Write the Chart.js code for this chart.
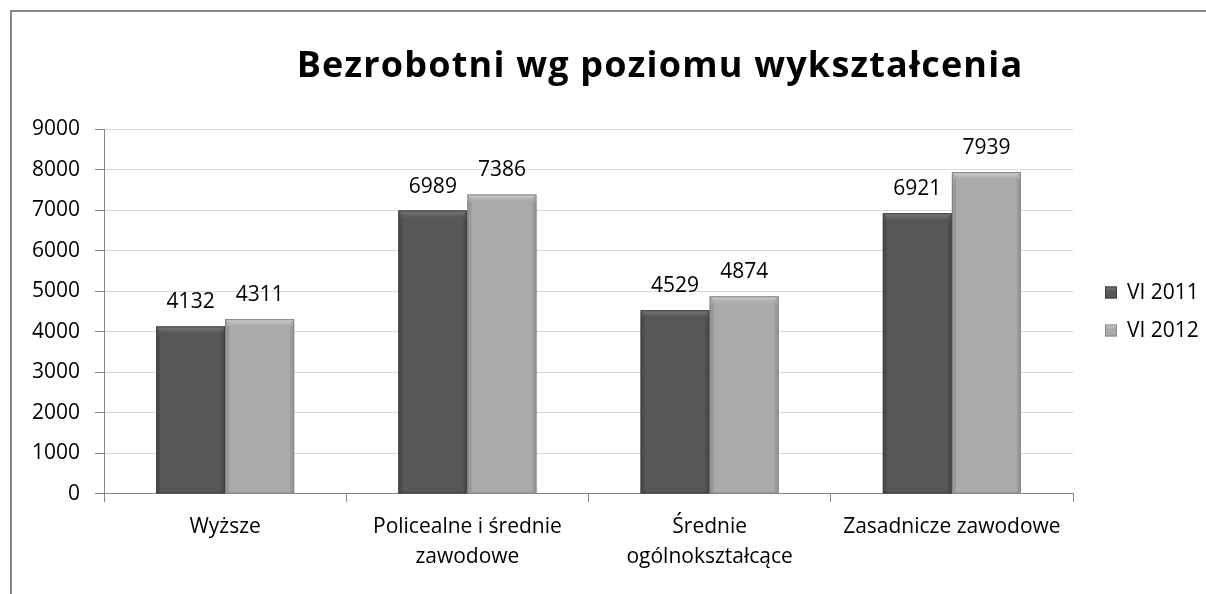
<!DOCTYPE html>
<html lang="pl">
<head>
  <meta charset="UTF-8">
  <title>Bezrobotni wg poziomu wykształcenia</title>
  <script src="https://cdn.jsdelivr.net/npm/chart.js"></script>
  <style>
    body {
      margin: 0;
      background: #fff;
      overflow: hidden;
    }
    .ramka {
      position: absolute;
      left: 10px;
      top: 10px;
      width: 1300px;
      height: 700px;
      border: 2px solid #868686;
    }
    #wykres {
      position: absolute;
      left: 0;
      top: 0;
    }
  </style>
</head>
<body>
  <div class="ramka"></div>
  <canvas id="wykres" width="1206" height="594"></canvas>

  <script>
    const kategorie = [
      ['Wyższe'],
      ['Policealne i średnie', 'zawodowe'],
      ['Średnie', 'ogólnokształcące'],
      ['Zasadnicze zawodowe']
    ];
    const vi2011 = [4132, 6989, 4529, 6921];
    const vi2012 = [4311, 7386, 4874, 7939];
    const osY = { min: 0, max: 9000, krok: 1000 };
    const tytul = 'Bezrobotni wg poziomu wykształcenia';

    const czcionka = '"Open Sans", "Noto Sans", sans-serif';
    const jasne = ['#7a7a7a', '#cdcdcd'];
    const ciemne = ['#3e3e3e', '#858585'];

    // tytuł rysowany ręcznie, bo w oryginale jest przesunięty w prawo
    const pluginTytul = {
      id: 'tytul',
      afterDraw(chart) {
        const ctx = chart.ctx;
        ctx.save();
        ctx.font = 'bold 36px ' + czcionka;
        ctx.letterSpacing = '1.2px';
        ctx.fillStyle = '#000';
        ctx.textAlign = 'center';
        ctx.textBaseline = 'alphabetic';
        ctx.fillText(tytul, 660, 77);
        ctx.restore();
      }
    };

    // efekt "skosu" jak w Excelu: jaśniejszy pasek u góry i ciemniejsze boki
    const pluginSkos = {
      id: 'skos',
      afterDatasetsDraw(chart) {
        const ctx = chart.ctx;
        ctx.save();
        chart.data.datasets.forEach((ds, i) => {
          chart.getDatasetMeta(i).data.forEach(bar => {
            const l = bar.x - bar.width / 2;
            const r = bar.x + bar.width / 2;
            const t = bar.y;
            const b = bar.base;
            const s = 7;
            const g = ctx.createLinearGradient(0, t, 0, t + s);
            g.addColorStop(0, jasne[i]);
            g.addColorStop(1, ds.backgroundColor);
            ctx.fillStyle = g;
            ctx.beginPath();
            ctx.moveTo(l, t);
            ctx.lineTo(r, t);
            ctx.lineTo(r - s, t + s);
            ctx.lineTo(l + s, t + s);
            ctx.closePath();
            ctx.fill();
            ctx.globalAlpha = 0.45;
            ctx.fillStyle = ciemne[i];
            ctx.fillRect(l, t + s, 4, b - t - s);
            ctx.fillRect(r - 4, t + s, 4, b - t - s);
            ctx.globalAlpha = 1;
            ctx.strokeStyle = ciemne[i];
            ctx.lineWidth = 1;
            ctx.strokeRect(l + 0.5, t + 0.5, r - l - 1, b - t - 1);
          });
        });
        ctx.restore();
      }
    };

    // etykiety wartości nad słupkami
    const pluginEtykiety = {
      id: 'etykiety',
      afterDatasetsDraw(chart) {
        const ctx = chart.ctx;
        ctx.save();
        ctx.font = '21px ' + czcionka;
        ctx.fillStyle = '#000';
        ctx.textAlign = 'center';
        ctx.textBaseline = 'alphabetic';
        chart.data.datasets.forEach((ds, i) => {
          chart.getDatasetMeta(i).data.forEach((bar, j) => {
            ctx.fillText(ds.data[j], bar.x, bar.y - 18);
          });
        });
        ctx.restore();
      }
    };

    // legenda po prawej, obok obszaru wykresu
    const pluginLegenda = {
      id: 'legenda',
      afterDraw(chart) {
        const ctx = chart.ctx;
        const a = chart.chartArea;
        const x = a.right + 32;
        const srodek = (a.top + a.bottom) / 2;
        const n = chart.data.datasets.length;
        ctx.save();
        ctx.font = '21px ' + czcionka;
        ctx.textBaseline = 'middle';
        ctx.textAlign = 'left';
        chart.data.datasets.forEach((ds, i) => {
          const y = srodek + (i - (n - 1) / 2) * 38;
          const g = ctx.createLinearGradient(0, y - 6, 0, y + 6);
          g.addColorStop(0, jasne[i]);
          g.addColorStop(0.4, ds.backgroundColor);
          g.addColorStop(1, ds.backgroundColor);
          ctx.fillStyle = g;
          ctx.fillRect(x, y - 6, 12, 12);
          ctx.strokeStyle = ciemne[i];
          ctx.strokeRect(x + 0.5, y - 5.5, 11, 11);
          ctx.fillStyle = '#000';
          ctx.fillText(ds.label, x + 22, y + 1);
        });
        ctx.restore();
      }
    };

    new Chart(document.getElementById('wykres'), {
      type: 'bar',
      data: {
        labels: kategorie,
        datasets: [
          {
            label: 'VI 2011',
            data: vi2011,
            backgroundColor: '#575757',
            borderWidth: 0
          },
          {
            label: 'VI 2012',
            data: vi2012,
            backgroundColor: '#aaaaaa',
            borderWidth: 0
          }
        ]
      },
      options: {
        responsive: false,
        animation: false,
        categoryPercentage: 0.57,
        barPercentage: 1,
        layout: {
          padding: { left: 17, top: 129, right: 133, bottom: 12 }
        },
        plugins: {
          legend: { display: false },
          tooltip: { enabled: false }
        },
        scales: {
          x: {
            grid: {
              offset: true,
              drawOnChartArea: false,
              tickLength: 8,
              tickColor: '#868686'
            },
            border: { color: '#868686' },
            ticks: {
              color: '#000',
              padding: 10,
              maxRotation: 0,
              font: { size: 21, family: czcionka, lineHeight: 1.43 }
            }
          },
          y: {
            min: osY.min,
            max: osY.max,
            ticks: {
              stepSize: osY.krok,
              color: '#000',
              padding: 15,
              font: { size: 21, family: czcionka },
              callback: v => String(v)
            },
            grid: {
              color: '#d9d9d9',
              tickColor: '#868686',
              tickLength: 9
            },
            border: { color: '#868686' }
          }
        }
      },
      plugins: [pluginTytul, pluginSkos, pluginEtykiety, pluginLegenda]
    });
  </script>
</body>
</html>
